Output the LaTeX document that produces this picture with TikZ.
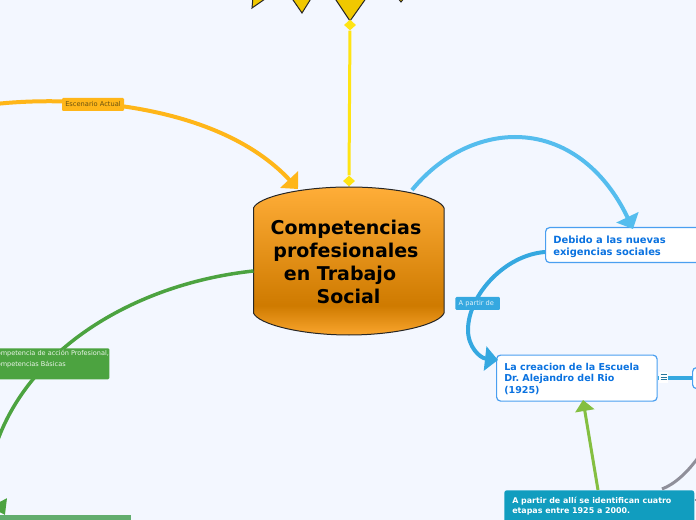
\documentclass[tikz,border=0pt]{standalone}
\usepackage{fontspec}
\setmainfont{DejaVu Sans}
\frenchspacing
\usetikzlibrary{arrows.meta,shapes.geometric}
\definecolor{pagebg}{HTML}{F3F7FF}
\definecolor{sunY}{HTML}{F0C800}
\definecolor{linkY}{HTML}{FFE414}
\definecolor{linkO}{HTML}{FFB619}
\definecolor{linkB}{HTML}{55BDEE}
\definecolor{linkD}{HTML}{35A8E0}
\definecolor{linkG}{HTML}{4CA340}
\definecolor{linkL}{HTML}{84BF41}
\definecolor{linkGrey}{HTML}{8F8F9A}
\definecolor{boxEdge}{HTML}{4A9FF0}
\definecolor{boxText}{HTML}{0A72E0}
\definecolor{teal}{HTML}{119DBF}
\definecolor{greenbox}{HTML}{62AD6E}
\definecolor{labelO}{HTML}{6B5210}
\def\px{0.75pt}
\pgfdeclareverticalshading{cylshade}{100bp}{
  rgb(0bp)=(0.98,0.65,0.18);
  rgb(25bp)=(0.98,0.65,0.18);
  rgb(35bp)=(0.81,0.48,0.0);
  rgb(75bp)=(1.0,0.68,0.22);
  rgb(100bp)=(1.0,0.68,0.22)}
\tikzset{
  x=0.75pt,y=-0.75pt,
  spike/.style={draw=black!85,line width=0.75pt,fill=sunY,line join=miter},
  whitebox/.style={draw=boxEdge,fill=white,line width=0.9pt,rounded corners=3pt,anchor=north west,inner sep=0pt},
  boxtxt/.style={text=boxText,align=left,anchor=west,inner sep=0pt},
  taglabel/.style={font=\fontsize{5}{7}\selectfont,rounded corners=0.8pt,inner sep=0pt},
  yellowdot/.style={diamond,fill=linkY,inner sep=0pt,minimum width=12*\px,minimum height=11*\px},
  curve/.style={line width=#1*\px,line cap=butt},
  bigtip/.style={-{Triangle[length=13*\px,width=24*\px]}},
}
\begin{document}
\begin{tikzpicture}
\useasboundingbox (0,0) rectangle (696,520);
\clip (0,0) rectangle (696,520);
\fill[pagebg] (0,0) rectangle (696,520);
% sun spikes
\draw[spike] (334,-3) -- (350,21) -- (367,-3);
\draw[spike] (291,-3) -- (302,13) -- (312,-3);
\draw[spike] (253,-3) -- (252,8) -- (265,-1);
\draw[spike] (397,-3) -- (401,2) -- (405,-3);
% central cylinder
\shade[shading=cylshade,draw=black!85,line width=0.75pt]
  (253.5,208) .. controls (258,197) and (300,187) .. (349,187)
  .. controls (398,187) and (440,197) .. (444,208)
  -- (444,313) .. controls (440,324) and (398,335) .. (349,335)
  .. controls (300,335) and (258,324) .. (253.5,313) -- cycle;
\node[inner sep=0pt,minimum width=190*\px,minimum height=148*\px] (hub) at (349,261) {};
\node[align=center,inner sep=0pt,text=black,font=\fontsize{14.25}{17.25}\selectfont\bfseries] (hubtext) at (346,262)
  {Competencias\\profesionales\\en Trabajo\hspace*{9pt}\null\\\hspace*{3.75pt}Social};
\coordinate (hubRimTop) at (412,190);
\coordinate (hubRimLeft) at (253.5,271);
\coordinate (hubOrange) at (298,189);
% boxes
\node[whitebox,minimum width=180*\px,minimum height=35*\px] (debido) at (545,227) {};
\node[whitebox,minimum width=160.5*\px,minimum height=46*\px] (creacion) at (496,354.5) {};
\node[whitebox,minimum width=40*\px,minimum height=21*\px] (smallbox) at (692,367) {};
\node[fill=teal,rounded corners=2pt,anchor=north west,inner sep=0pt,minimum width=190*\px,minimum height=45*\px] (etapas) at (504,490) {};
\node[fill=greenbox,anchor=north west,inner sep=0pt,minimum width=160*\px,minimum height=30*\px] (bottombox) at (-29,515) {};
% free ends
\coordinate (orangeFree) at (-20,106);
\coordinate (greyFree) at (700,455);
\coordinate (blueEnd) at (633,229);
\coordinate (greenEnd) at (5,515);
% connectors
\node[yellowdot] (dotTop) at (350,25) {};
\node[yellowdot] (dotBottom) at (349,181) {};
\draw[curve=3,linkY] (dotTop) -- (dotBottom);
\draw[curve=4,linkO,bigtip] (orangeFree) .. controls (60,94) and (215,100) .. (hubOrange);
\draw[curve=4,linkB,bigtip] (hubRimTop) .. controls (445,150) and (485,137) .. (515,137) .. controls (565,137) and (605,170) .. (blueEnd);
\draw[curve=4,linkD,bigtip] (debido.west |- 0,252) .. controls (505,255) and (468,295) .. (468,330) .. controls (468,347) and (480,358) .. (498,360);
\draw[curve=3.5,linkG] (hubRimLeft) .. controls (140,283) and (30,345) .. (-4,445);
\draw[curve=3.5,linkG,-{Triangle[length=14*\px,width=18*\px]}] (-8,490) -- (greenEnd);
\draw[curve=3,linkL,-{Triangle[length=11*\px,width=19*\px]}] (598,490) -- (583,400);
\draw[curve=3,linkGrey] (662,489) .. controls (675,484) and (688,472) .. (greyFree);
\draw[curve=1.5,linkGrey] (694.5,500) -- (697,500);
\draw[curve=4,linkD] (creacion.east) -- (smallbox.west);
\node[fill=white,inner sep=0pt,minimum width=9*\px,minimum height=11*\px] (menuicon) at (663.5,377) {};
\draw[linkD!70!black,line width=0.6pt] (660.5,374.5) -- (666.5,374.5) (660.5,377) -- (666.5,377) (660.5,379.5) -- (666.5,379.5);
% texts
\node[boxtxt,font=\fontsize{7.45}{9}\selectfont\bfseries] (debidotxt) at (553,246.5) {Debido a las nuevas\\exigencias sociales};
\node[boxtxt,font=\fontsize{7.15}{8.6}\selectfont\bfseries] (creaciontxt) at (504,379) {La creacion de la Escuela\\Dr. Alejandro del Rio\\(1925)};
\node[anchor=west,align=left,inner sep=0pt,text=white,font=\fontsize{5.95}{7.5}\selectfont\bfseries] (etapastxt) at (512,506)
  {A partir de allí se identifican cuatro\\etapas entre 1925 a 2000.};
% labels
\node[taglabel,fill=linkD,text=white!85!linkD,minimum width=44.5*\px,minimum height=13*\px] (apartir) at (477.7,303.5) {\hspace*{-2pt}A partir de};
\node[taglabel,fill=linkO,text=labelO,minimum width=62*\px,minimum height=13*\px] (escenario) at (93,104.5) {Escenario Actual};
\node[fill=linkG,rounded corners=0.8pt,anchor=north west,inner sep=0pt,minimum width=118*\px,minimum height=31*\px] (accion) at (-9,348) {};
\node[anchor=north west,align=left,inner sep=0pt,text=white!88!linkG,font=\fontsize{4.9}{8}\selectfont] (acciontxt) at (-8,350.5) {Competencia de acción Profesional,\\Competencias Básicas};
\end{tikzpicture}
\end{document}
